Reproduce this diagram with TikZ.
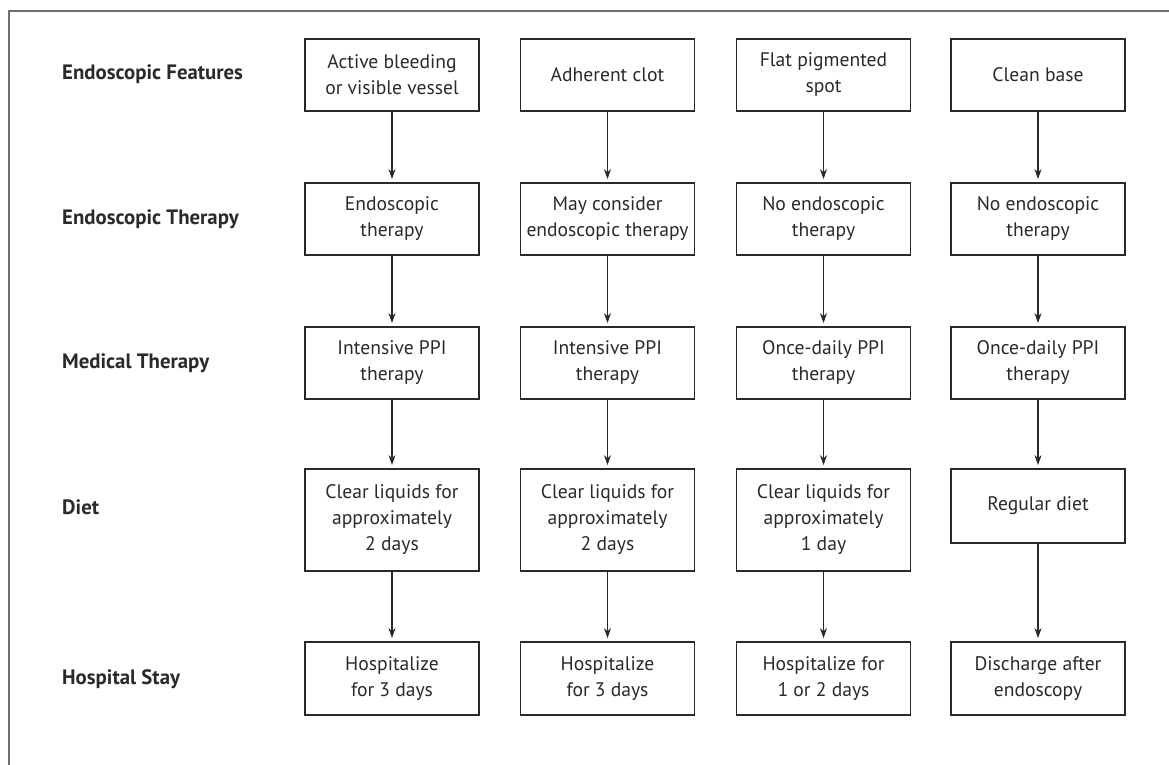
\documentclass[tikz,border=0pt]{standalone}
\usepackage{fontspec}
\setmainfont{PT Sans}
\usetikzlibrary{arrows.meta}
\definecolor{ink}{HTML}{2A2A2A}
\definecolor{framec}{HTML}{707070}
\tikzset{
  box/.style={draw=ink, line width=1.8pt, minimum width=174pt, align=center, text=ink,
    font=\fontsize{19.6}{26}\selectfont, inner sep=0pt},
  rowlabel/.style={anchor=west, text=ink, font=\fontsize{20.8}{26}\selectfont\bfseries, inner sep=0pt},
  flow/.style={draw=ink, line width=1.3pt, -{Stealth[length=10pt,width=7pt]}, shorten >=3pt}
}
\begin{document}
\begin{tikzpicture}[x=1pt,y=-1pt]
\useasboundingbox (0,0) rectangle (1169,765);
\fill[white] (0,0) rectangle (1169,765);
\draw[framec, line width=2.2pt] (9,770) -- (9,11) -- (1175,11);

% row labels
\node[rowlabel] (l1) at (62,74) {Endoscopic Features};
\node[rowlabel] (l2) at (62,219) {Endoscopic Therapy};
\node[rowlabel] (l3) at (62,363) {Medical Therapy};
\node[rowlabel] (l4) at (62,507) {Diet};
\node[rowlabel] (l5) at (62,679) {Hospital Stay};

\node[box, minimum height=72pt] (a1) at (392,75) {Active bleeding\\or visible vessel};
\node[box, minimum height=72pt] (b1) at (607.5,75) {Adherent clot};
\node[box, minimum height=72pt] (c1) at (823.5,75) {Flat pigmented\\spot};
\node[box, minimum height=72pt] (d1) at (1038,75) {Clean base};

\node[box, minimum height=72pt] (a2) at (392,219) {Endoscopic\\therapy};
\node[box, minimum height=72pt] (b2) at (607.5,219) {May consider\\endoscopic therapy};
\node[box, minimum height=72pt] (c2) at (823.5,219) {No endoscopic\\therapy};
\node[box, minimum height=72pt] (d2) at (1038,219) {No endoscopic\\therapy};

\node[box, minimum height=72pt] (a3) at (392,363) {Intensive PPI\\therapy};
\node[box, minimum height=72pt] (b3) at (607.5,363) {Intensive PPI\\therapy};
\node[box, minimum height=72pt] (c3) at (823.5,363) {Once-daily PPI\\therapy};
\node[box, minimum height=72pt] (d3) at (1038,363) {Once-daily PPI\\therapy};

\node[box, minimum height=102pt] (a4) at (392,520) {Clear liquids for\\approximately\\2 days};
\node[box, minimum height=102pt] (b4) at (607.5,520) {Clear liquids for\\approximately\\2 days};
\node[box, minimum height=102pt] (c4) at (823.5,520) {Clear liquids for\\approximately\\1 day};
\node[box, minimum height=74pt] (d4) at (1038,506) {Regular diet};

\node[box, minimum height=73pt] (a5) at (392,678.5) {Hospitalize\\for 3 days};
\node[box, minimum height=73pt] (b5) at (607.5,678.5) {Hospitalize\\for 3 days};
\node[box, minimum height=73pt] (c5) at (823.5,678.5) {Hospitalize for\\1 or 2 days};
\node[box, minimum height=73pt] (d5) at (1038,678.5) {Discharge after\\endoscopy};

\foreach \c in {a,b,c,d}{
  \draw[flow] (\c1) -- (\c2);
  \draw[flow] (\c2) -- (\c3);
  \draw[flow] (\c3) -- (\c4);
  \draw[flow] (\c4) -- (\c5);
}
\end{tikzpicture}
\end{document}
